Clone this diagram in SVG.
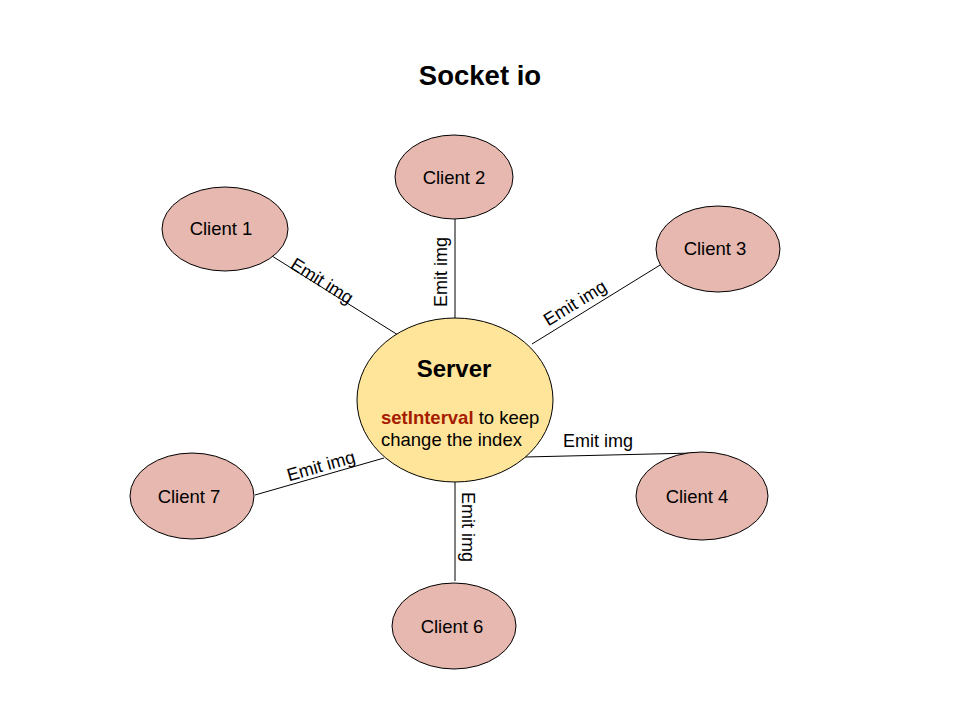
<svg xmlns="http://www.w3.org/2000/svg" width="960" height="720" viewBox="0 0 960 720">
<style>
.client{fill:#e6b8af;stroke:#000;stroke-width:1}
.server{fill:#ffe599;stroke:#000;stroke-width:1}
.t{font-family:"Liberation Sans",Arial,sans-serif;fill:#000}
.cl{font-size:18.5px;text-anchor:middle;dominant-baseline:central}
.lbl{font-size:18px;text-anchor:middle;dominant-baseline:central}
.edge{stroke:#000;stroke-width:1;fill:none}
</style>
<rect width="960" height="720" fill="#fff"/>
<text class="t" x="480" y="75" font-size="27.5" font-weight="bold" text-anchor="middle" dominant-baseline="central">Socket io</text>
<g id="connectors">
<line class="edge" x1="272" y1="256" x2="398" y2="335"/>
<line class="edge" x1="455" y1="219" x2="455" y2="318"/>
<line class="edge" x1="665" y1="262" x2="532" y2="344"/>
<line class="edge" x1="525" y1="457" x2="694" y2="453"/>
<line class="edge" x1="255" y1="495" x2="384" y2="458"/>
<line class="edge" x1="455" y1="482" x2="455" y2="581"/>
<text class="t lbl" transform="translate(322,281) rotate(32)">Emit img</text>
<text class="t lbl" transform="translate(441,272) rotate(-90)">Emit img</text>
<text class="t lbl" transform="translate(575,303) rotate(-31.5)">Emit img</text>
<text class="t lbl" x="598" y="441">Emit img</text>
<text class="t lbl" transform="translate(321,466) rotate(-16)">Emit img</text>
<text class="t lbl" transform="translate(468,527) rotate(90)">Emit img</text>
</g>
<g id="server">
<ellipse class="server" cx="455" cy="400" rx="98" ry="82"/>
<text class="t" x="454" y="368" font-size="24" font-weight="bold" text-anchor="middle" dominant-baseline="central">Server</text>
<text class="t" x="381" y="417" font-size="18.5" dominant-baseline="central"><tspan fill="#a61c00" font-weight="bold">setInterval</tspan> to keep</text>
<text class="t" x="381" y="439" font-size="18.5" dominant-baseline="central">change the index</text>
</g>
<g id="client1"><ellipse class="client" cx="225" cy="229" rx="63" ry="42"/><text class="t cl" x="221" y="228">Client 1</text></g>
<g id="client2"><ellipse class="client" cx="454" cy="177" rx="59" ry="42"/><text class="t cl" x="454" y="177">Client 2</text></g>
<g id="client3"><ellipse class="client" cx="718" cy="249" rx="62" ry="43"/><text class="t cl" x="715" y="248">Client 3</text></g>
<g id="client4"><ellipse class="client" cx="702" cy="496" rx="66" ry="44"/><text class="t cl" x="697" y="496">Client 4</text></g>
<g id="client7"><ellipse class="client" cx="192" cy="496" rx="62" ry="43"/><text class="t cl" x="189" y="496">Client 7</text></g>
<g id="client6"><ellipse class="client" cx="454" cy="626" rx="62" ry="43"/><text class="t cl" x="452" y="626">Client 6</text></g>
</svg>
